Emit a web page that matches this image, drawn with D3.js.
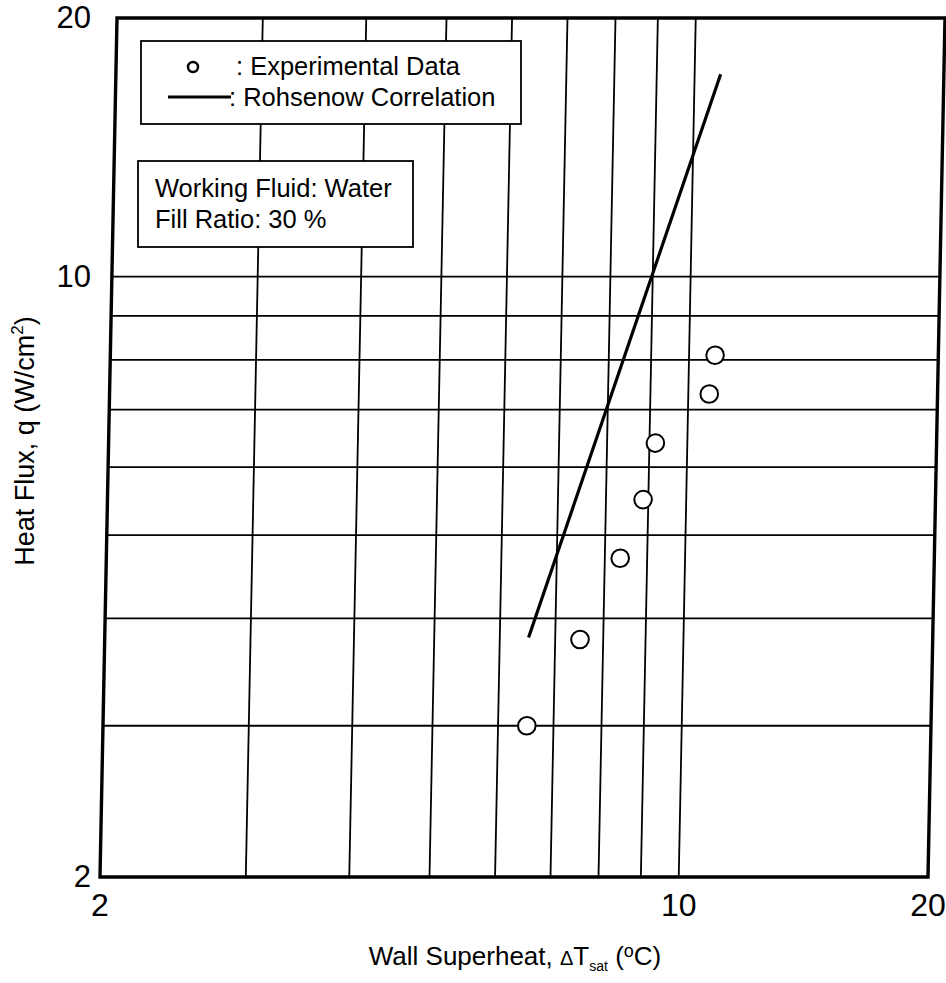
<!DOCTYPE html>
<html>
<head>
<meta charset="utf-8">
<script src="https://cdn.jsdelivr.net/npm/d3@7"></script>
<style>
  html, body { margin: 0; padding: 0; background: #fff; }
  svg { display: block; }
  text { font-family: "Liberation Sans", Arial, Helvetica, sans-serif; fill: #000; }
</style>
</head>
<body>
<svg id="chart" width="946" height="983"></svg>
<script>
// Pool boiling data: wall superheat (°C) vs heat flux (W/cm²)
const superheat = [6.5, 7.5, 8.35, 8.87, 9.15, 10.6, 10.75];
const heatFlux  = [3.0, 3.78, 4.7, 5.5, 6.4, 7.3, 8.1];

// Rohsenow correlation (q ∝ ΔT³), end points
const rohsenowDT = [6.5, 10.75];
const rohsenowQ  = [3.8, 17.2];

// Grid and tick labels
const xGrid = [3, 4, 5, 6, 7, 8, 9, 10];
const yGrid = [3, 4, 5, 6, 7, 8, 9, 10];
const xTickLabels = [2, 10, 20];
const yTickLabels = [2, 10, 20];

const legendItems = [": Experimental Data", ": Rohsenow Correlation"];
const infoLines = ["Working Fluid: Water", "Fill Ratio: 30 %"];

const plotLeft = 100, plotRight = 928, plotTop = 18, plotBottom = 877;
const svg = d3.select("#chart");

const x = d3.scaleLog().domain([2, 20]).range([plotLeft, plotRight]);
const y = d3.scaleLog().domain([2, 20]).range([plotBottom, plotTop]);

// plot area is slightly sheared (top edge sits right of the bottom edge)
const k = -17 / (plotBottom - plotTop);
const plot = svg.append("g")
  .attr("transform", `matrix(1,0,${k},1,${-k * plotBottom},0)`);

// grid
plot.append("g").selectAll("line").data(yGrid).join("line")
  .attr("x1", plotLeft).attr("x2", plotRight)
  .attr("y1", d => y(d)).attr("y2", d => y(d))
  .attr("stroke", "#000").attr("stroke-width", 1.8);
plot.append("g").selectAll("line").data(xGrid).join("line")
  .attr("x1", d => x(d)).attr("x2", d => x(d))
  .attr("y1", plotTop).attr("y2", plotBottom)
  .attr("stroke", "#000").attr("stroke-width", 1.8);

// frame
plot.append("rect")
  .attr("x", plotLeft).attr("y", plotTop)
  .attr("width", plotRight - plotLeft).attr("height", plotBottom - plotTop)
  .attr("fill", "none").attr("stroke", "#000").attr("stroke-width", 3.4);

// correlation line
const line = d3.line().x(d => x(d[0])).y(d => y(d[1]));
plot.append("path")
  .datum(d3.zip(rohsenowDT, rohsenowQ))
  .attr("d", line)
  .attr("fill", "none").attr("stroke", "#000").attr("stroke-width", 3.2);

// experimental points
plot.append("g").selectAll("circle").data(d3.zip(superheat, heatFlux)).join("circle")
  .attr("cx", d => x(d[0])).attr("cy", d => y(d[1]))
  .attr("r", 8.8)
  .attr("fill", "#fff").attr("stroke", "#000").attr("stroke-width", 2);

// legend box
const lg = svg.append("g");
lg.append("rect").attr("x", 141).attr("y", 41).attr("width", 380).attr("height", 83)
  .attr("fill", "#fff").attr("stroke", "#000").attr("stroke-width", 1.8);
lg.append("circle").attr("cx", 193).attr("cy", 67).attr("r", 5)
  .attr("fill", "none").attr("stroke", "#000").attr("stroke-width", 2.5);
lg.append("line").attr("x1", 168).attr("x2", 231).attr("y1", 97).attr("y2", 97)
  .attr("stroke", "#000").attr("stroke-width", 3);
lg.append("text").attr("x", 236).attr("y", 75).attr("font-size", 25.5).text(legendItems[0]);
lg.append("text").attr("x", 229).attr("y", 106).attr("font-size", 25.5).text(legendItems[1]);

// info box
const ib = svg.append("g");
ib.append("rect").attr("x", 138).attr("y", 161).attr("width", 275).attr("height", 86)
  .attr("fill", "#fff").attr("stroke", "#000").attr("stroke-width", 1.8);
ib.selectAll("text").data(infoLines).join("text")
  .attr("x", 155).attr("y", (d, i) => 197 + i * 31)
  .attr("font-size", 25.5).text(d => d);

// tick labels
svg.append("g").selectAll("text").data(xTickLabels).join("text")
  .attr("x", d => x(d)).attr("y", 916)
  .attr("text-anchor", "middle").attr("font-size", 32).text(d => d);
svg.append("g").selectAll("text").data(yTickLabels).join("text")
  .attr("x", 91).attr("y", d => y(d) + 10)
  .attr("text-anchor", "end").attr("font-size", 31).text(d => d);

// axis titles
const xt = svg.append("text").attr("x", 515).attr("y", 965)
  .attr("text-anchor", "middle").attr("font-size", 26);
xt.append("tspan").text("Wall Superheat, ");
xt.append("tspan").attr("font-size", 20).text("Δ");
xt.append("tspan").text("T");
xt.append("tspan").attr("font-size", 14).attr("dy", 6).text("sat");
xt.append("tspan").attr("dy", -6).text(" (");
xt.append("tspan").attr("font-size", 18).attr("dy", -8).text("o");
xt.append("tspan").attr("dy", 8).text("C)");

const yt = svg.append("text")
  .attr("transform", "translate(34,441) rotate(-90)")
  .attr("text-anchor", "middle").attr("font-size", 27);
yt.append("tspan").text("Heat Flux, q (W/cm");
yt.append("tspan").attr("font-size", 17).attr("dy", -11).text("2");
yt.append("tspan").attr("dy", 11).text(")");
</script>
</body>
</html>
